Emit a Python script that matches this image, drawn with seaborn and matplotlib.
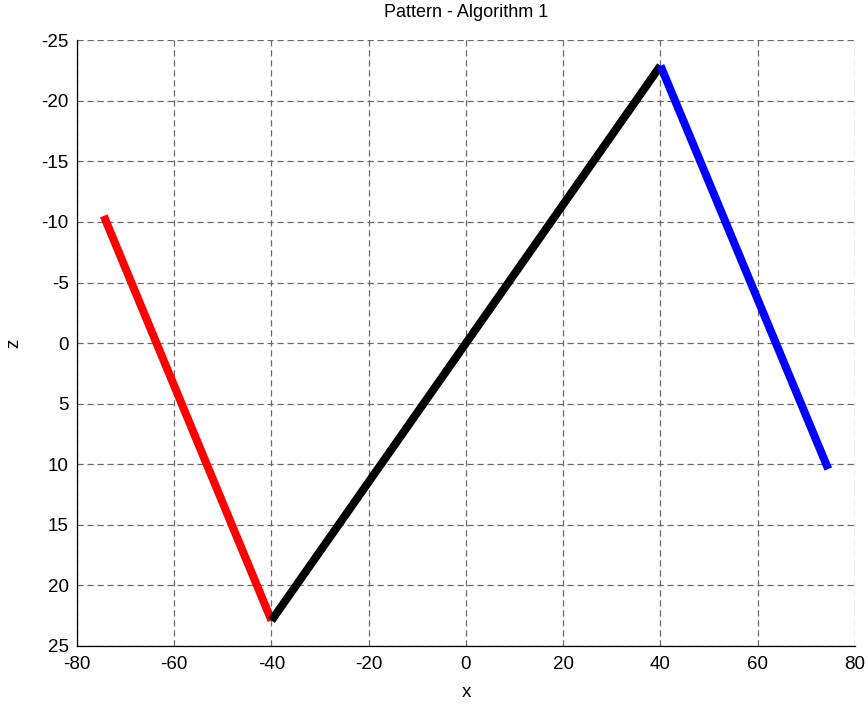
import matplotlib
matplotlib.use("Agg")
import matplotlib.pyplot as plt
import seaborn as sns
import pandas as pd

# Path segments of the pattern (x, z) endpoints
red_x = [-74.5, -40.0]
red_z = [-10.5, 22.9]
black_x = [-40.0, 40.0]
black_z = [22.9, -22.9]
blue_x = [40.0, 74.5]
blue_z = [-22.9, 10.4]

x_ticks = [-80, -60, -40, -20, 0, 20, 40, 60, 80]
z_ticks = [-25, -20, -15, -10, -5, 0, 5, 10, 15, 20, 25]

sns.set_style("white")
plt.rcParams["font.family"] = ["Liberation Sans", "DejaVu Sans"]
plt.rcParams["axes.unicode_minus"] = False
plt.rcParams["text.color"] = "black"
plt.rcParams["axes.labelcolor"] = "black"

fig = plt.figure(figsize=(8.68, 7.06), dpi=100)
ax = fig.add_axes([0.0887, 0.085, 0.8963, 0.858])

segments = [
    (red_x, red_z, "#ff0000"),
    (black_x, black_z, "#000000"),
    (blue_x, blue_z, "#0000ff"),
]
for xs, zs, col in segments:
    df = pd.DataFrame({"x": xs, "z": zs})
    sns.lineplot(data=df, x="x", y="z", sort=False, color=col, linewidth=5.8,
                 solid_capstyle="butt", ax=ax, zorder=3)

ax.set_xlim(-80, 80)
ax.set_ylim(25, -25)
ax.set_xticks(x_ticks)
ax.set_yticks(z_ticks)
ax.tick_params(direction="in", length=5, width=0.8, labelsize=13.5, colors="black",
               pad=6)
ax.tick_params(axis="x", pad=7)

ax.grid(True, linestyle=(0, (5, 3)), color="#6a6a6a", linewidth=0.9)
ax.set_axisbelow(True)
for side in ["top", "right"]:
    ax.spines[side].set_visible(False)
for side in ["left", "bottom"]:
    ax.spines[side].set_color("black")
    ax.spines[side].set_linewidth(0.9)

ax.set_title("Pattern - Algorithm 1", fontsize=13, pad=17, color="black")
ax.set_xlabel("x", fontsize=13.5, labelpad=8)
ax.set_ylabel("z", fontsize=13.5, labelpad=14)

fig.savefig("out.png", dpi=100)
